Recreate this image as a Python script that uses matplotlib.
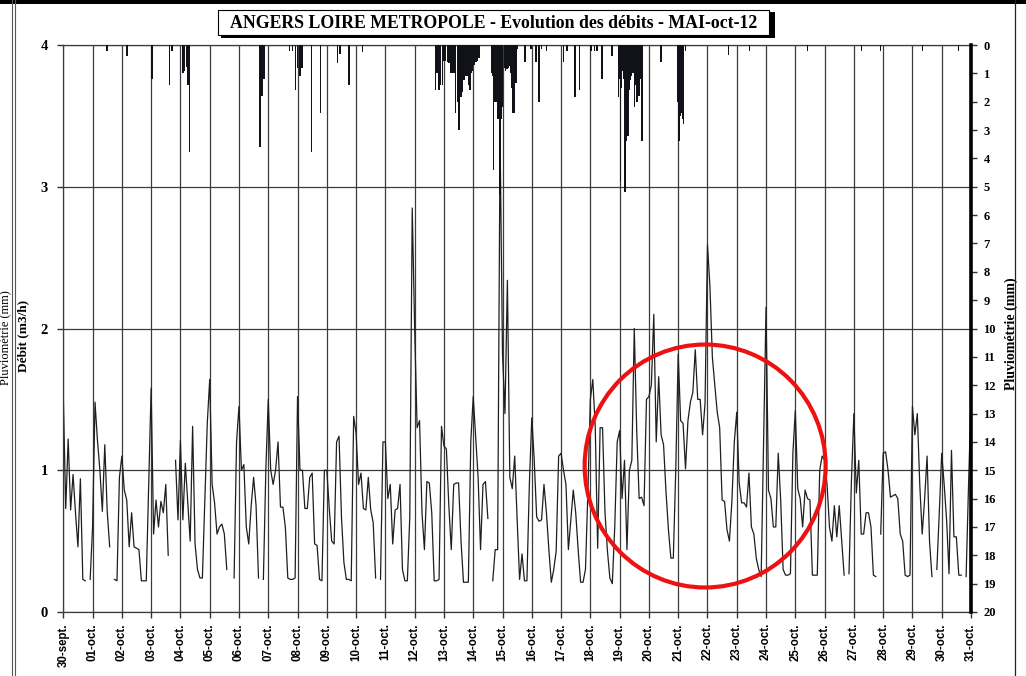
import numpy as np
import matplotlib.pyplot as plt
from matplotlib.patches import Ellipse, Rectangle
from matplotlib.lines import Line2D

nan = np.nan

day_labels = ["30-sept.", "01-oct.", "02-oct.", "03-oct.", "04-oct.", "05-oct.", "06-oct.",
              "07-oct.", "08-oct.", "09-oct.", "10-oct.", "11-oct.", "12-oct.", "13-oct.",
              "14-oct.", "15-oct.", "16-oct.", "17-oct.", "18-oct.", "19-oct.", "20-oct.",
              "21-oct.", "22-oct.", "23-oct.", "24-oct.", "25-oct.", "26-oct.", "27-oct.",
              "28-oct.", "29-oct.", "30-oct.", "31-oct."]

# debit (m3/h), one reading every 2 hours from 30-sept 00h
debit = [
    1.52, 0.73, 1.22, 0.72, 0.97, 0.70, 0.46, 0.94, 0.23, 0.22, nan, 0.23,   # 30-sept
    0.60, 1.48, 1.21, 1.00, 0.71, 1.18, 0.71, 0.46, nan, 0.23, 0.22, 0.95,   # 01
    1.10, 0.86, 0.79, 0.46, 0.70, 0.46, 0.45, 0.44, 0.22, 0.22, 0.22, 0.90,  # 02
    1.58, 0.55, 0.79, 0.60, 0.78, 0.70, 0.90, 0.40, nan, nan, 1.07, 0.65,    # 03
    1.21, 0.65, 1.05, 0.77, 0.50, 1.31, 0.48, 0.30, 0.24, 0.24, 0.79, 1.33,  # 04
    1.64, 0.90, 0.77, 0.55, 0.60, 0.62, 0.55, 0.30, nan, nan, 0.24, 1.20,    # 05
    1.45, 1.00, 1.04, 0.60, 0.48, 0.75, 0.95, 0.75, 0.24, nan, 0.23, 1.00,   # 06
    1.50, 1.00, 0.90, 1.00, 1.20, 0.74, 0.74, 0.60, 0.24, 0.23, 0.23, 0.24,  # 07
    1.52, 1.00, 1.00, 0.73, 0.73, 0.95, 0.98, 0.48, 0.47, 0.23, 0.22, 1.00,  # 08
    1.00, 0.73, 0.50, 0.48, 1.20, 1.24, 0.67, 0.35, 0.23, 0.23, 0.22, 1.38,  # 09
    1.26, 0.90, 0.98, 0.73, 0.72, 0.95, 0.72, 0.63, 0.24, nan, 0.23, 1.20,   # 10
    1.20, 0.80, 0.90, 0.48, 0.72, 0.73, 0.90, 0.30, 0.22, 0.22, 0.67, 2.85,  # 11
    2.00, 1.30, 1.35, 0.70, 0.44, 0.92, 0.91, 0.70, 0.22, 0.22, 0.23, 1.31,  # 12
    1.17, 1.15, 0.75, 0.44, 0.90, 0.91, 0.91, 0.50, 0.21, 0.21, 0.21, 1.20,  # 13
    1.52, 1.24, 0.95, 0.44, 0.90, 0.92, 0.66, nan, 0.22, 0.44, 0.44, 3.35,   # 14
    1.82, 1.40, 2.34, 0.95, 0.87, 1.10, 0.65, 0.23, 0.41, 0.22, 0.22, 0.90,  # 15
    1.37, 1.07, 0.67, 0.64, 0.65, 0.90, 0.70, 0.44, 0.21, 0.30, 0.43, 1.10,  # 16
    1.12, 1.00, 0.90, 0.44, 0.65, 0.86, 0.70, 0.44, 0.21, 0.21, 0.30, 0.85,  # 17
    1.50, 1.64, 1.31, 0.45, 1.30, 1.30, 0.70, 0.43, 0.24, 0.20, 0.60, 1.20,  # 18
    1.28, 0.80, 1.07, 0.44, 1.00, 1.07, 2.00, 1.28, 0.80, 0.81, 0.75, 1.50,  # 19
    1.52, 1.60, 2.10, 1.20, 1.66, 1.25, 1.18, 0.85, 0.58, 0.38, 0.38, 1.00,  # 20
    1.82, 1.35, 1.33, 1.01, 1.35, 1.48, 1.55, 1.85, 1.50, 1.50, 1.25, 1.47,  # 21
    2.59, 2.30, 1.80, 1.60, 1.41, 1.30, 0.79, 0.78, 0.58, 0.50, 0.78, 1.20,  # 22
    1.41, 0.91, 0.77, 0.77, 0.74, 0.98, 0.60, 0.55, 0.38, 0.30, 0.25, 1.19,  # 23
    2.15, 0.86, 0.80, 0.60, 0.60, 1.12, 0.79, 0.30, 0.26, 0.26, 0.27, 1.12,  # 24
    1.42, 0.87, 0.80, 0.60, 0.86, 0.80, 0.79, 0.26, 0.26, 0.26, 1.00, 1.10,  # 25
    1.07, 0.90, 0.60, 0.50, 0.75, 0.53, 0.75, 0.50, 0.26, nan, 0.27, 0.93,   # 26
    1.40, 0.84, 1.07, 0.55, 0.55, 0.70, 0.70, 0.60, 0.26, 0.25, nan, 0.55,   # 27
    1.12, 1.13, 1.00, 0.81, 0.82, 0.83, 0.80, 0.55, 0.50, 0.26, 0.25, 0.26,  # 28
    1.45, 1.25, 1.40, 0.90, 0.55, 0.80, 1.10, 0.50, 0.25, nan, 0.30, 0.70,   # 29
    1.12, 0.90, 0.65, 0.27, 1.14, 0.53, 0.53, 0.26, 0.26, nan, 0.25, 0.90,   # 30
    1.50,                                                                    # 31
]

# rain (mm): time in days since 30-sept 00h, hourly totals
rain_day = [1.49, 2.17, 3.03, 3.63, 3.71, 4.09, 4.13, 4.20, 4.26, 4.31,
            6.71, 6.79, 6.85, 7.73, 7.82, 7.93, 7.99, 8.08, 8.16, 8.47, 8.79,
            9.36, 9.45, 9.75, 10.21,
            12.72, 12.77, 12.83, 12.89, 12.95, 13.00, 13.06, 13.12, 13.18, 13.24, 13.29,
            13.35, 13.40, 13.46, 13.52, 13.58, 13.63, 13.69, 13.75, 13.80, 13.85, 13.89,
            13.94, 13.98, 14.03, 14.09, 14.15, 14.20,
            14.63, 14.67, 14.70, 14.74, 14.77, 14.81, 14.85, 14.89, 14.92, 14.96, 15.00,
            15.06, 15.10, 15.15, 15.19, 15.23, 15.27, 15.31, 15.36, 15.40, 15.46, 15.52,
            15.77, 15.97, 16.14, 16.24, 16.34, 16.51,
            17.09, 17.20, 17.48, 17.63,
            18.03, 18.14, 18.22, 18.40, 18.74,
            18.96, 19.00, 19.03, 19.07, 19.11, 19.15, 19.19, 19.24, 19.28, 19.32, 19.37,
            19.41, 19.45, 19.51, 19.56, 19.60, 19.64, 19.68, 19.72, 19.76,
            20.42, 20.97, 21.03, 21.06, 21.10, 21.15, 21.19, 21.25,
            22.71, 23.43, 25.42, 27.26, 27.91, 29.34, 30.58]
rain_mm = [0.20, 0.40, 1.20, 1.40, 0.20, 1.00, 0.90, 0.76, 1.40, 3.76,
           3.60, 1.80, 1.20, 0.20, 0.20, 1.60, 0.80, 1.10, 0.80, 3.76, 2.40,
           0.65, 0.30, 1.40, 0.24,
           1.60, 1.00, 1.60, 1.40, 1.40, 0.55, 0.55, 0.60, 0.65, 1.00, 1.00,
           1.00, 2.40, 2.00, 3.00, 1.85, 1.65, 1.25, 1.10, 1.10, 1.40, 1.60,
           1.00, 0.90, 0.70, 0.60, 0.55, 0.45,
           1.00, 1.10, 4.40, 2.00, 2.00, 1.50, 2.60, 0.90, 5.30, 2.60, 2.20,
           0.80, 0.90, 0.85, 0.80, 0.75, 1.00, 1.50, 2.40, 2.40, 1.35, 0.15,
           0.60, 0.15, 0.60, 2.00, 0.15, 0.20,
           0.60, 0.20, 1.85, 1.60,
           0.20, 0.20, 0.20, 1.20, 0.40,
           1.85, 1.20, 4.80, 1.50, 0.90, 1.20, 5.20, 3.40, 3.20, 1.60, 1.25,
           1.10, 1.00, 2.20, 1.40, 2.00, 1.80, 1.80, 1.20, 3.40,
           0.60, 2.00, 3.40, 2.50, 2.40, 2.60, 2.80, 0.20,
           0.35, 0.20, 0.20, 0.20, 0.20, 0.20, 0.20]

t = np.arange(len(debit)) * 2 / 24

W, H = 1026, 676
fig = plt.figure(figsize=(W / 100, H / 100), dpi=100)
ax = fig.add_axes([63.3 / W, 1 - 612 / H, (971 - 63.3) / W, (612 - 45) / H])

serif = "Liberation Serif"
sans = "Liberation Sans"

ax.set_xlim(0, 31)
ax.set_ylim(0, 4)
ax.set_xticks(np.arange(32))
ax.set_xticklabels(day_labels, rotation=90, fontfamily=sans, fontweight="bold", fontsize=8.3)
ax.set_yticks([0, 1, 2, 3, 4])
ax.set_yticklabels(["0", "1", "2", "3", "4"], fontfamily=serif, fontweight="bold", fontsize=10.5)
ax.tick_params(axis="both", direction="out", length=4, width=1, color="#333333", pad=4)
ax.tick_params(axis="y", pad=7)
ax.grid(True, color="#3c3c3c", lw=0.9)
ax.set_axisbelow(True)
for s in ["top", "left", "bottom"]:
    ax.spines[s].set_color("#3c3c3c")
    ax.spines[s].set_linewidth(0.9)
ax.spines["right"].set_visible(False)

ax.plot(t, debit, color="#1e1e1e", lw=0.9)
ax.set_ylabel("Débit (m3/h)", fontfamily=serif, fontweight="bold", fontsize=9.5)
ax.yaxis.set_label_coords(-0.037, 0.487)

ax2 = ax.twinx()
ax2.set_ylim(20, 0)
ax2.set_xlim(0, 31)
ax2.bar(rain_day, rain_mm, width=0.05, bottom=0, align="center", color="#111118", lw=0)
ax2.set_yticks(np.arange(21))
ax2.set_yticklabels([str(v) for v in range(21)], fontfamily=serif, fontweight="bold", fontsize=9)
ax2.tick_params(axis="y", direction="out", length=4, width=1, color="#333333", pad=5)
ax2.spines["right"].set_linewidth(2.6)
ax2.spines["right"].set_color("black")
for s in ["top", "left", "bottom"]:
    ax2.spines[s].set_visible(False)
ax2.set_ylabel("Pluviométrie (mm)", fontfamily=serif, fontweight="bold", fontsize=10,
               rotation=90)
ax2.yaxis.set_label_coords(1.037, 0.49)

ax.add_patch(Ellipse((21.92, 1.03), 8.23, 1.714, fill=False, edgecolor="#ee1111", lw=3,
                     zorder=10, clip_on=False))

# title box with shadow
fig.add_artist(Rectangle((221 / W, 1 - 38 / H), (772 - 218) / W, 26 / H,
                         transform=fig.transFigure, facecolor="black", edgecolor="none"))
fig.add_artist(Rectangle((218 / W, 1 - 35 / H), (769 - 218) / W, 25 / H,
                         transform=fig.transFigure, facecolor="white", edgecolor="black", lw=0.8))
fig.text(494 / W, 1 - 23 / H, "ANGERS LOIRE METROPOLE - Evolution des débits - MAI-oct-12",
         ha="center", va="center", fontfamily=serif, fontweight="bold", fontsize=12.8)

# page frame
fig.add_artist(Rectangle((0, 1 - 4 / H), 1, 4 / H, transform=fig.transFigure,
                         facecolor="black", edgecolor="none"))
for xp in (11.5, 14.5):
    fig.add_artist(Line2D([xp / W, xp / W], [0, 1], color="#555555", lw=0.8))
fig.add_artist(Line2D([1015 / W, 1015 / W], [0, 1], color="#222222", lw=0.9))
fig.text(5 / W, 0.5, "Pluviométrie (mm)", rotation=90, ha="center", va="center",
         fontfamily=serif, fontsize=9)

fig.savefig("out.png", dpi=100)
